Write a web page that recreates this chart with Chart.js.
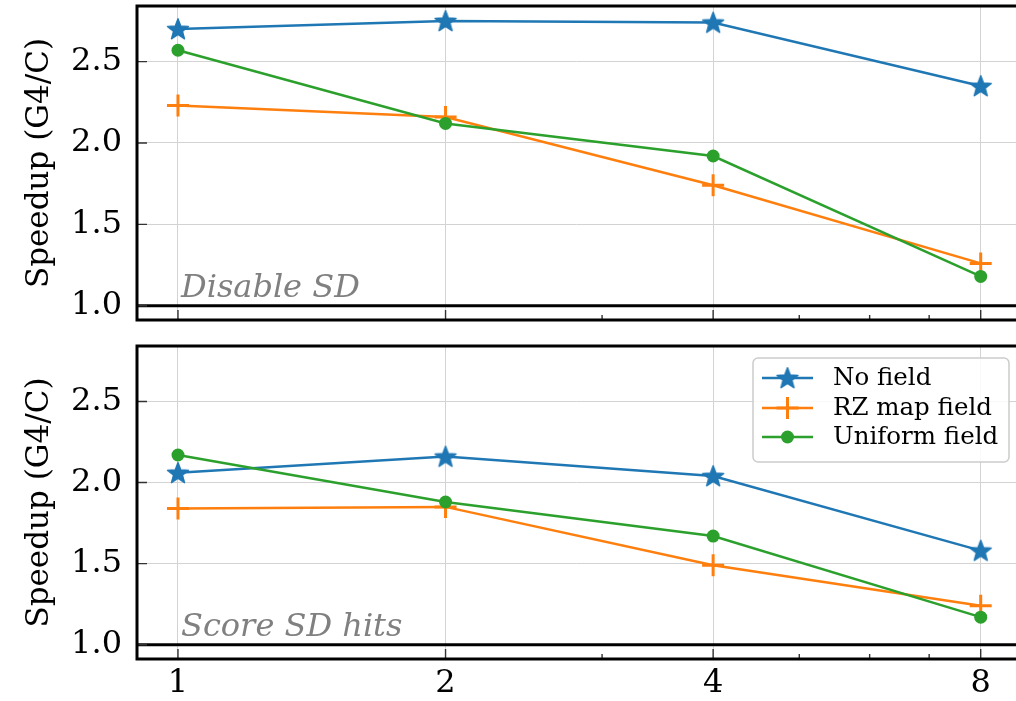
<!DOCTYPE html>
<html>
<head>
<meta charset="utf-8">
<title>Speedup (G4/C)</title>
<script src="https://cdn.jsdelivr.net/npm/chart.js@4.4.1/dist/chart.umd.min.js"></script>
<style>
  html, body { margin: 0; padding: 0; background: #fff; overflow: hidden; }
  #wrap { position: relative; width: 1016px; height: 701px; }
  canvas { position: absolute; left: 0; }
</style>
</head>
<body>
<div id="wrap">
  <canvas id="panelTop" width="1016" height="340" style="top:0;width:1016px;height:340px"></canvas>
  <canvas id="panelBottom" width="1016" height="361" style="top:340px;width:1016px;height:361px"></canvas>
</div>
<script>
// Thread counts (x axis, log2 spaced)
const threads = [1, 2, 4, 8];
const xMinorTicks = [3, 5, 6, 7];
const yTicks = [1.0, 1.5, 2.0, 2.5];
const parityLevel = 1.0;

const seriesNames = ['No field', 'RZ map field', 'Uniform field'];

// Panel 1: sensitive detectors disabled
const disableNoField = [2.70, 2.75, 2.74, 2.35];
const disableRZMap   = [2.23, 2.16, 1.74, 1.26];
const disableUniform = [2.57, 2.12, 1.92, 1.18];

// Panel 2: scoring sensitive-detector hits
const scoreNoField = [2.06, 2.16, 2.04, 1.58];
const scoreRZMap   = [1.84, 1.85, 1.49, 1.24];
const scoreUniform = [2.17, 1.88, 1.67, 1.17];

const COLORS = ['#1f77b4', '#ff7f0e', '#2ca02c'];
const SERIF = '"DejaVu Serif", "Liberation Serif", serif';
const GRID = '#d3d3d3';
const TICK_FONT = 32;

const X_MIN = 0.8993, X_MAX = 8.766;
const Y_MIN = 0.912, Y_MAX = 2.842;

// Filled five-pointed star used as a point marker
function makeStar(R, color) {
  const s = Math.ceil(R * 2 + 4);
  const c = document.createElement('canvas');
  c.width = s; c.height = s;
  const g = c.getContext('2d');
  const cx = s / 2, cy = s / 2 + 0.8, r = R * 0.42;
  g.beginPath();
  for (let i = 0; i < 10; i++) {
    const ang = -Math.PI / 2 + i * Math.PI / 5;
    const rr = i % 2 ? r : R;
    g.lineTo(cx + rr * Math.cos(ang), cy + rr * Math.sin(ang));
  }
  g.closePath();
  g.fillStyle = color;
  g.fill();
  g.lineJoin = 'round';
  g.lineWidth = 1.5;
  g.strokeStyle = color;
  g.stroke();
  return c;
}
const starMarker = makeStar(11, COLORS[0]);

const markerSpecs = [
  { style: starMarker, radius: 10, bw: 0 },
  { style: 'cross', radius: 11, bw: 3 },
  { style: 'circle', radius: 6.5, bw: 0 }
];

function buildDatasets(valueSets) {
  return valueSets.map((ys, k) => ({
    label: seriesNames[k],
    data: threads.map((t, i) => ({ x: t, y: ys[i] })),
    borderColor: COLORS[k],
    backgroundColor: COLORS[k],
    borderWidth: 2.5,
    pointStyle: markerSpecs[k].style,
    pointRadius: markerSpecs[k].radius,
    pointBorderWidth: markerSpecs[k].bw,
    pointBackgroundColor: COLORS[k],
    pointBorderColor: COLORS[k],
    tension: 0,
    order: 2 - k,
    clip: false
  }));
}

// Spines, inward tick marks, the y = 1 reference line and the panel note
const framePlugin = {
  id: 'frame',
  afterDatasetsDraw(chart, args, opts) {
    const { ctx, chartArea: a } = chart;
    const x = chart.scales.x, y = chart.scales.y;
    ctx.save();
    ctx.font = 'italic 32px ' + SERIF;
    ctx.fillStyle = '#808080';
    ctx.textBaseline = 'alphabetic';
    ctx.textAlign = 'left';
    ctx.fillText(opts.note, a.left + 44, a.bottom - 23);

    ctx.strokeStyle = '#000';
    ctx.lineWidth = 3;
    const py1 = y.getPixelForValue(parityLevel);
    ctx.beginPath();
    ctx.moveTo(a.left, py1);
    ctx.lineTo(a.right + 4, py1);
    ctx.stroke();

    ctx.strokeStyle = '#333';
    ctx.lineWidth = 1.4;
    ctx.beginPath();
    threads.forEach(v => {
      const px = x.getPixelForValue(v);
      ctx.moveTo(px, a.bottom); ctx.lineTo(px, a.bottom - 10);
    });
    xMinorTicks.forEach(v => {
      const px = x.getPixelForValue(v);
      ctx.moveTo(px, a.bottom); ctx.lineTo(px, a.bottom - 5);
    });
    yTicks.forEach(v => {
      const py = y.getPixelForValue(v);
      ctx.moveTo(a.left, py); ctx.lineTo(a.left + 10, py);
    });
    ctx.stroke();

    ctx.strokeStyle = '#000';
    ctx.lineWidth = 3;
    ctx.beginPath();
    ctx.moveTo(a.right + 4, a.top);
    ctx.lineTo(a.left, a.top);
    ctx.lineTo(a.left, a.bottom);
    ctx.lineTo(a.right + 4, a.bottom);
    ctx.stroke();
    ctx.restore();
  }
};

// Framed legend in the upper right of the lower panel
const boxLegendPlugin = {
  id: 'boxLegend',
  afterDraw(chart, args, opts) {
    if (!opts.show) return;
    const { ctx, chartArea: a } = chart;
    const bw = 256, bh = 104;
    const bx = a.right - 7 - bw, by = a.top + 12;
    ctx.save();
    ctx.beginPath();
    ctx.roundRect(bx, by, bw, bh, 5);
    ctx.fillStyle = 'rgba(255,255,255,0.85)';
    ctx.fill();
    ctx.strokeStyle = '#cccccc';
    ctx.lineWidth = 1.5;
    ctx.stroke();

    const rows = [by + 20, by + 50, by + 79];
    const lx0 = bx + 9, lx1 = bx + 60, mx = (lx0 + lx1) / 2;
    ctx.font = '24.5px ' + SERIF;
    ctx.textBaseline = 'middle';
    ctx.textAlign = 'left';
    seriesNames.forEach((name, k) => {
      const ry = rows[k];
      ctx.strokeStyle = COLORS[k];
      ctx.lineWidth = 2.5;
      ctx.beginPath();
      ctx.moveTo(lx0, ry); ctx.lineTo(lx1, ry);
      ctx.stroke();
      if (k === 0) {
        ctx.drawImage(starMarker, mx - starMarker.width / 2, ry - starMarker.height / 2);
      } else if (k === 1) {
        ctx.lineWidth = 3;
        ctx.beginPath();
        ctx.moveTo(mx - 11, ry); ctx.lineTo(mx + 11, ry);
        ctx.moveTo(mx, ry - 11); ctx.lineTo(mx, ry + 11);
        ctx.stroke();
      } else {
        ctx.fillStyle = COLORS[k];
        ctx.beginPath();
        ctx.arc(mx, ry, 6.5, 0, Math.PI * 2);
        ctx.fill();
      }
      ctx.fillStyle = '#000';
      ctx.fillText(name, bx + 80, ry + 1);
    });
    ctx.restore();
  }
};

function makePanel(canvasId, valueSets, note, showXLabels, xAxisHeight, showLegend) {
  return new Chart(document.getElementById(canvasId), {
    type: 'line',
    data: { datasets: buildDatasets(valueSets) },
    options: {
      animation: false,
      responsive: false,
      devicePixelRatio: 1,
      layout: { autoPadding: false, padding: { top: 6, left: 0, right: 0, bottom: 0 } },
      plugins: {
        legend: { display: false },
        tooltip: { enabled: false },
        frame: { note: note },
        boxLegend: { show: showLegend }
      },
      scales: {
        x: {
          type: 'logarithmic',
          min: X_MIN,
          max: X_MAX,
          afterBuildTicks: s => { s.ticks = threads.map(v => ({ value: v })); },
          afterFit: s => { s.height = xAxisHeight; s.paddingLeft = 0; s.paddingRight = 0; },
          ticks: {
            display: showXLabels,
            autoSkip: false,
            maxRotation: 0,
            padding: 5,
            color: '#000',
            font: { family: SERIF, size: TICK_FONT },
            callback: v => String(v)
          },
          grid: { color: GRID, lineWidth: 1, drawTicks: false },
          border: { display: false }
        },
        y: {
          min: Y_MIN,
          max: Y_MAX,
          afterBuildTicks: s => { s.ticks = yTicks.map(v => ({ value: v })); },
          afterFit: s => { s.width = 137; s.paddingTop = 0; s.paddingBottom = 0; },
          ticks: {
            padding: 15,
            color: '#000',
            font: { family: SERIF, size: TICK_FONT },
            callback: v => Number(v).toFixed(1)
          },
          grid: { color: GRID, lineWidth: 1, drawTicks: false },
          border: { display: false },
          title: {
            display: true,
            text: 'Speedup (G4/C)',
            color: '#000',
            font: { family: SERIF, size: 31 },
            padding: { top: 21, bottom: 0 }
          }
        }
      }
    },
    plugins: [framePlugin, boxLegendPlugin]
  });
}

makePanel('panelTop', [disableNoField, disableRZMap, disableUniform], 'Disable SD', false, 20, false);
makePanel('panelBottom', [scoreNoField, scoreRZMap, scoreUniform], 'Score SD hits', true, 42, true);
</script>
</body>
</html>
